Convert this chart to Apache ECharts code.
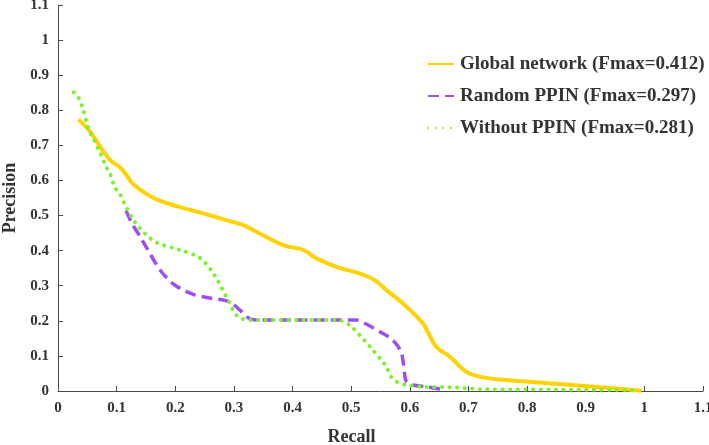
<!DOCTYPE html>
<html>
<head>
<meta charset="utf-8">
<script src="https://cdn.jsdelivr.net/npm/echarts@6/dist/echarts.min.js"></script>
<style>
  html, body { margin: 0; padding: 0; background: #fff; }
  #main { width: 709px; height: 445px; }
</style>
</head>
<body>
<div id="main"></div>
<script>
// recall / precision pairs
var globalRecall = [0.035, 0.055, 0.072, 0.089, 0.106, 0.117, 0.126, 0.145, 0.168, 0.202, 0.248, 0.287, 0.316, 0.344, 0.384, 0.418, 0.441, 0.475, 0.514, 0.540, 0.560, 0.588, 0.622, 0.645, 0.668, 0.696, 0.719, 0.753, 0.855, 0.930, 0.995]
var globalPrec = [0.774, 0.739, 0.696, 0.658, 0.637, 0.615, 0.593, 0.568, 0.546, 0.527, 0.506, 0.487, 0.473, 0.449, 0.416, 0.402, 0.378, 0.354, 0.335, 0.316, 0.288, 0.250, 0.193, 0.126, 0.098, 0.055, 0.041, 0.033, 0.020, 0.010, 0.001]

var randomRecall = [0.116, 0.126, 0.140, 0.152, 0.174, 0.199, 0.233, 0.259, 0.293, 0.310, 0.327, 0.345, 0.420, 0.509, 0.523, 0.549, 0.571, 0.585, 0.589, 0.591, 0.594, 0.605, 0.628, 0.654, 0.660]
var randomPrec = [0.514, 0.478, 0.440, 0.406, 0.345, 0.302, 0.274, 0.265, 0.254, 0.231, 0.206, 0.202, 0.202, 0.202, 0.193, 0.169, 0.145, 0.112, 0.079, 0.050, 0.027, 0.017, 0.012, 0.005, 0.004]

var withoutRecall = [0.027, 0.035, 0.043, 0.052, 0.060, 0.072, 0.082, 0.089, 0.097, 0.106, 0.115, 0.128, 0.135, 0.148, 0.168, 0.208, 0.242, 0.267, 0.290, 0.310, 0.344, 0.420, 0.478, 0.497, 0.514, 0.532, 0.549, 0.560, 0.568, 0.577, 0.594, 0.622, 0.668, 0.725, 0.850, 0.983]
var withoutPrec = [0.851, 0.836, 0.800, 0.748, 0.720, 0.679, 0.639, 0.618, 0.580, 0.560, 0.528, 0.489, 0.473, 0.449, 0.423, 0.402, 0.379, 0.330, 0.259, 0.208, 0.202, 0.202, 0.202, 0.188, 0.160, 0.126, 0.093, 0.069, 0.041, 0.027, 0.017, 0.012, 0.011, 0.005, 0.004, 0.003]

var seriesNames = ['Global network (Fmax=0.412)', 'Random PPIN (Fmax=0.297)', 'Without PPIN (Fmax=0.281)']

function pairs(xs, ys) {
  return xs.map(function (x, i) { return [x, ys[i]] })
}

var font = 'Liberation Serif'
var axisCol = '#4a4a4a'

var axisCommon = {
  type: 'value',
  min: 0,
  max: 1.1,
  interval: 0.1,
  splitLine: { show: false },
  axisLine: { show: true, lineStyle: { color: axisCol, width: 1 } },
  axisTick: { show: true, inside: true, length: 5, lineStyle: { color: axisCol } },
  axisLabel: {
    fontFamily: font, fontWeight: 'bold', fontSize: 15, color: '#333',
    formatter: function (v) { return String(Math.round(v * 10) / 10) }
  }
}

var myChart = echarts.init(document.getElementById('main'))
myChart.setOption({
  animation: false,
  grid: { left: 58, right: 6, top: 5, bottom: 54, outerBoundsMode: 'none', containLabel: false },
  legend: {
    orient: 'vertical',
    left: 427,
    top: 53,
    padding: 0,
    itemWidth: 26,
    itemHeight: 12,
    itemGap: 10,
    itemStyle: { opacity: 0 },
    textStyle: { fontFamily: font, fontWeight: 'bold', fontSize: 19, color: '#333', lineHeight: 22, padding: [0, 0, 0, 1] },
    data: seriesNames
  },
  xAxis: Object.assign({}, axisCommon, {
    name: 'Recall',
    nameLocation: 'middle',
    nameGap: 37,
    nameTextStyle: { fontFamily: font, fontWeight: 'bold', fontSize: 18, color: '#333', padding: [0, 58, 0, 0] },
    axisLabel: Object.assign({}, axisCommon.axisLabel, { margin: 10 })
  }),
  yAxis: Object.assign({}, axisCommon, {
    name: 'Precision',
    nameLocation: 'middle',
    nameGap: 27,
    nameTextStyle: { fontFamily: font, fontWeight: 'bold', fontSize: 18, color: '#333' },
    axisLabel: Object.assign({}, axisCommon.axisLabel, { margin: 9 })
  }),
  series: [
    {
      name: seriesNames[0],
      type: 'line',
      symbol: 'none',
      smooth: 0.3,
      color: '#FFD200',
      lineStyle: { color: '#FFD200', width: 4 },
      data: pairs(globalRecall, globalPrec)
    },
    {
      name: seriesNames[1],
      type: 'line',
      symbol: 'none',
      smooth: 0.3,
      color: '#9B4FF5',
      lineStyle: { color: '#9B4FF5', width: 3.5, type: [11, 6] },
      data: pairs(randomRecall, randomPrec)
    },
    {
      name: seriesNames[2],
      type: 'line',
      symbol: 'none',
      smooth: 0.3,
      color: '#7CF22A',
      lineStyle: { color: '#7CF22A', width: 4, type: [0.1, 7.5], cap: 'round' },
      data: pairs(withoutRecall, withoutPrec)
    }
  ]
})
</script>
</body>
</html>
